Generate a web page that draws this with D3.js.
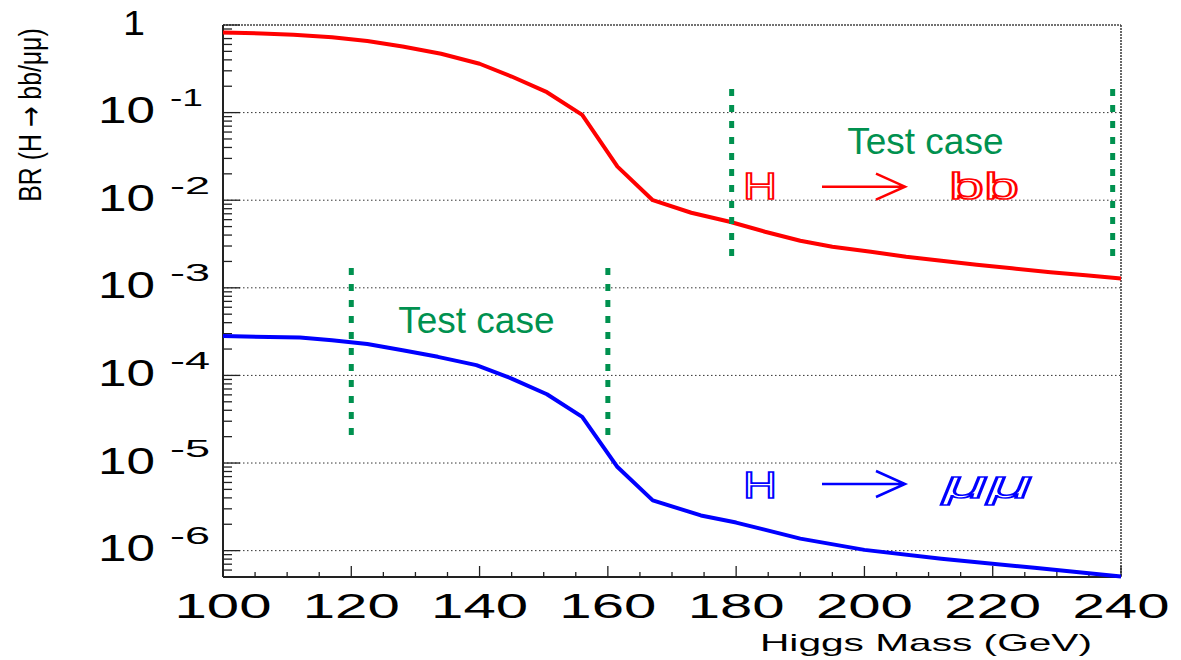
<!DOCTYPE html>
<html>
<head>
<meta charset="utf-8">
<title>BR(H -> bb / mumu)</title>
<style>
  html, body {margin: 0; padding: 0; background: #ffffff; overflow: hidden;}
  svg {display: block;}
  text {font-family: "Liberation Sans", Arial, sans-serif;}
</style>
</head>
<body>
<div id="chart"></div>
<script src="https://cdn.jsdelivr.net/npm/d3@7"></script>
<script>
// H -> bb branching ratio vs Higgs mass
var bbMass = [100, 106, 111, 117, 122.5, 128, 134, 140, 145, 150.5, 156, 161.5, 167, 173, 179, 184.5,
              190, 195, 201, 206.5, 212, 217.5, 223, 229, 234.5, 240];
var bbBR = [0.820, 0.800, 0.773, 0.726, 0.655, 0.569, 0.469, 0.361, 0.258, 0.171, 0.0942, 0.0242,
            0.0100, 0.00719, 0.00568, 0.00437, 0.00344, 0.00294, 0.00258, 0.00226, 0.00204,
            0.00183, 0.00167, 0.00151, 0.00139, 0.00128];

// H -> mumu branching ratio vs Higgs mass
var mumuMass = [100, 112, 117, 122.5, 128, 133.5, 139.5, 145, 150.5, 156, 161.5, 167, 174.5, 180,
                190, 200, 212, 226.5, 240];
var mumuBR = [2.81e-4, 2.71e-4, 2.52e-4, 2.28e-4, 1.94e-4, 1.63e-4, 1.31e-4, 9.2e-5, 6.1e-5, 3.36e-5,
              9.0e-6, 3.75e-6, 2.52e-6, 2.09e-6, 1.37e-6, 1.02e-6, 8.07e-7, 6.37e-7, 5.07e-7];

// "Test case" windows: mass position, top and bottom of the dashed marker
var testMass = [120, 160, 179.3, 238.7];
var testTop = [1.68e-3, 1.68e-3, 0.186, 0.186];
var testBottom = [2.07e-5, 2.07e-5, 2.24e-3, 2.24e-3];

// axis ticks
var xMajor = [100, 120, 140, 160, 180, 200, 220, 240];
var yDecades = [0, -1, -2, -3, -4, -5, -6];

var W = 1181, H = 660;
var margin = {top: 25, right: 60, bottom: 83, left: 223};

var x = d3.scaleLinear().domain([100, 240]).range([margin.left, W - margin.right]);
var y = d3.scaleLog().domain([5e-7, 1]).range([H - margin.bottom, margin.top]);

var svg = d3.select("#chart").append("svg")
    .attr("width", W)
    .attr("height", H);

var x0 = x.range()[0], x1 = x.range()[1], yb = y.range()[0], yt = y.range()[1];

// horizontal dotted grid at each decade
svg.append("g").selectAll("line")
    .data(yDecades.filter(function(k) { return k < 0; }))
  .enter().append("line")
    .attr("x1", x0).attr("x2", x1)
    .attr("y1", function(k) { return y(Math.pow(10, k)); })
    .attr("y2", function(k) { return y(Math.pow(10, k)); })
    .attr("stroke", "#333")
    .attr("stroke-width", 1)
    .attr("stroke-dasharray", "1.5,2.5");

// frame: top and right dotted, left and bottom solid
svg.append("line").attr("x1", x0).attr("x2", x1).attr("y1", yt).attr("y2", yt)
    .attr("stroke", "#444").attr("stroke-width", 1.6).attr("stroke-dasharray", "2,1");
svg.append("line").attr("x1", x1).attr("x2", x1).attr("y1", yt).attr("y2", yb)
    .attr("stroke", "#444").attr("stroke-width", 1.6).attr("stroke-dasharray", "2,1");
svg.append("line").attr("x1", x0).attr("x2", x0).attr("y1", yt).attr("y2", yb)
    .attr("stroke", "#222").attr("stroke-width", 2);
svg.append("line").attr("x1", x0).attr("x2", x1).attr("y1", yb).attr("y2", yb)
    .attr("stroke", "#222").attr("stroke-width", 2);

// y ticks (major at decades, minor at 2..9)
var yTicks = [];
for (var k = -7; k <= 0; k++) {
    for (var m = 1; m <= 9; m++) {
        var v = m * Math.pow(10, k);
        if (v >= 5e-7 && v <= 1) yTicks.push({v: v, major: m === 1});
    }
}
svg.append("g").selectAll("line")
    .data(yTicks)
  .enter().append("line")
    .attr("x1", x0)
    .attr("x2", function(d) { return x0 + (d.major ? 17 : 9); })
    .attr("y1", function(d) { return y(d.v); })
    .attr("y2", function(d) { return y(d.v); })
    .attr("stroke", "#222")
    .attr("stroke-width", 1.3);

// x ticks every 5 GeV, long ones every 20
var xTicks = d3.range(100, 241, 5);
svg.append("g").selectAll("line")
    .data(xTicks)
  .enter().append("line")
    .attr("x1", function(d) { return x(d); })
    .attr("x2", function(d) { return x(d); })
    .attr("y1", yb)
    .attr("y2", function(d) { return yb - (d % 20 === 0 ? 11 : 5); })
    .attr("stroke", "#222")
    .attr("stroke-width", 1.3);

// x tick labels (wide ROOT-like digits)
svg.append("g").selectAll("text")
    .data(xMajor)
  .enter().append("text")
    .attr("x", function(d) { return x(d); })
    .attr("y", yb + 41)
    .attr("text-anchor", "middle")
    .attr("font-size", 35)
    .attr("textLength", 97)
    .attr("lengthAdjust", "spacingAndGlyphs")
    .text(function(d) { return d; });

// y tick labels 10^k
var yl = svg.append("g").selectAll("g")
    .data(yDecades)
  .enter().append("g")
    .attr("transform", function(k) { return "translate(0," + y(Math.pow(10, k)) + ")"; });

yl.filter(function(k) { return k === 0; }).append("text")
    .attr("x", 134).attr("y", 10)
    .attr("text-anchor", "middle")
    .attr("font-size", 35)
    .attr("textLength", 22)
    .attr("lengthAdjust", "spacingAndGlyphs")
    .text("1");

var yk = yl.filter(function(k) { return k < 0; });
yk.append("text")
    .attr("x", 98).attr("y", 10.5)
    .attr("font-size", 36)
    .attr("textLength", 57)
    .attr("lengthAdjust", "spacingAndGlyphs")
    .text("10");
yk.append("text")
    .attr("x", 170).attr("y", -6.5)
    .attr("font-size", 23)
    .attr("textLength", function(k) { return k === -1 ? 33 : 40; })
    .attr("lengthAdjust", "spacingAndGlyphs")
    .text(function(k) { return k; });

// axis titles
svg.append("text")
    .attr("x", 1092).attr("y", 651)
    .attr("text-anchor", "end")
    .attr("font-size", 24)
    .attr("textLength", 332)
    .attr("lengthAdjust", "spacingAndGlyphs")
    .text("Higgs Mass (GeV)");

// condensed vertical title
var ylab = svg.append("text")
    .attr("transform", "translate(41,115) rotate(-90) scale(0.8,1)")
    .attr("text-anchor", "middle")
    .attr("font-size", 31);
ylab.append("tspan").text("BR (H ");
ylab.append("tspan").attr("font-family", "'DejaVu Sans', sans-serif").text("\u2192");
ylab.append("tspan").text(" bb/\u03bc\u03bc)");

// branching ratio curves
var line = d3.line()
    .x(function(d) { return x(d[0]); })
    .y(function(d) { return y(d[1]); });

svg.append("path")
    .datum(d3.zip(bbMass, bbBR))
    .attr("d", line)
    .attr("fill", "none")
    .attr("stroke", "#ff0000")
    .attr("stroke-width", 4)
    .attr("stroke-linejoin", "round");

svg.append("path")
    .datum(d3.zip(mumuMass, mumuBR))
    .attr("d", line)
    .attr("fill", "none")
    .attr("stroke", "#0000ff")
    .attr("stroke-width", 4)
    .attr("stroke-linejoin", "round");

// test case markers
var green = "#00914f";
svg.append("g").selectAll("line")
    .data(d3.range(testMass.length))
  .enter().append("line")
    .attr("x1", function(i) { return x(testMass[i]); })
    .attr("x2", function(i) { return x(testMass[i]); })
    .attr("y1", function(i) { return y(testTop[i]); })
    .attr("y2", function(i) { return y(testBottom[i]); })
    .attr("stroke", green)
    .attr("stroke-width", 5)
    .attr("stroke-dasharray", "7,9");

svg.append("text")
    .attr("x", x(209.5)).attr("y", y(Math.pow(10, -1.473)))
    .attr("text-anchor", "middle")
    .attr("font-size", 37)
    .attr("fill", green)
    .text("Test case");
svg.append("text")
    .attr("x", x(139.5)).attr("y", y(Math.pow(10, -3.518)))
    .attr("text-anchor", "middle")
    .attr("font-size", 37)
    .attr("fill", green)
    .text("Test case");

// channel labels  H -> bb  and  H -> mumu (thin outlined lettering)
function channel(color, baseY, midY, tail, tailLen, italic) {
    var g = svg.append("g").attr("fill", "none").attr("stroke", color);
    g.append("text")
        .attr("x", 743).attr("y", baseY)
        .attr("font-size", 36)
        .attr("stroke-width", 1.6)
        .attr("textLength", 34)
        .attr("lengthAdjust", "spacingAndGlyphs")
        .text("H");
    g.append("path")
        .attr("d", "M822," + midY + "H905M876," + (midY - 13) + "L905," + midY + "L876," + (midY + 13))
        .attr("stroke-width", 2.5);
    var t = g.append("text")
        .attr("x", italic ? 943 : 949).attr("y", baseY)
        .attr("stroke-width", 1.6)
        .attr("textLength", tailLen)
        .attr("lengthAdjust", "spacingAndGlyphs")
        .text(tail);
    if (italic) {
        t.attr("font-family", "'DejaVu Serif', serif").attr("font-style", "italic").attr("font-size", 38);
    } else {
        t.attr("font-size", 36);
    }
}
channel("#ff0000", 199, 186.7, "bb", 70, false);
channel("#0000ff", 498, 484, "\u03bc\u03bc", 89, true);
</script>
</body>
</html>
